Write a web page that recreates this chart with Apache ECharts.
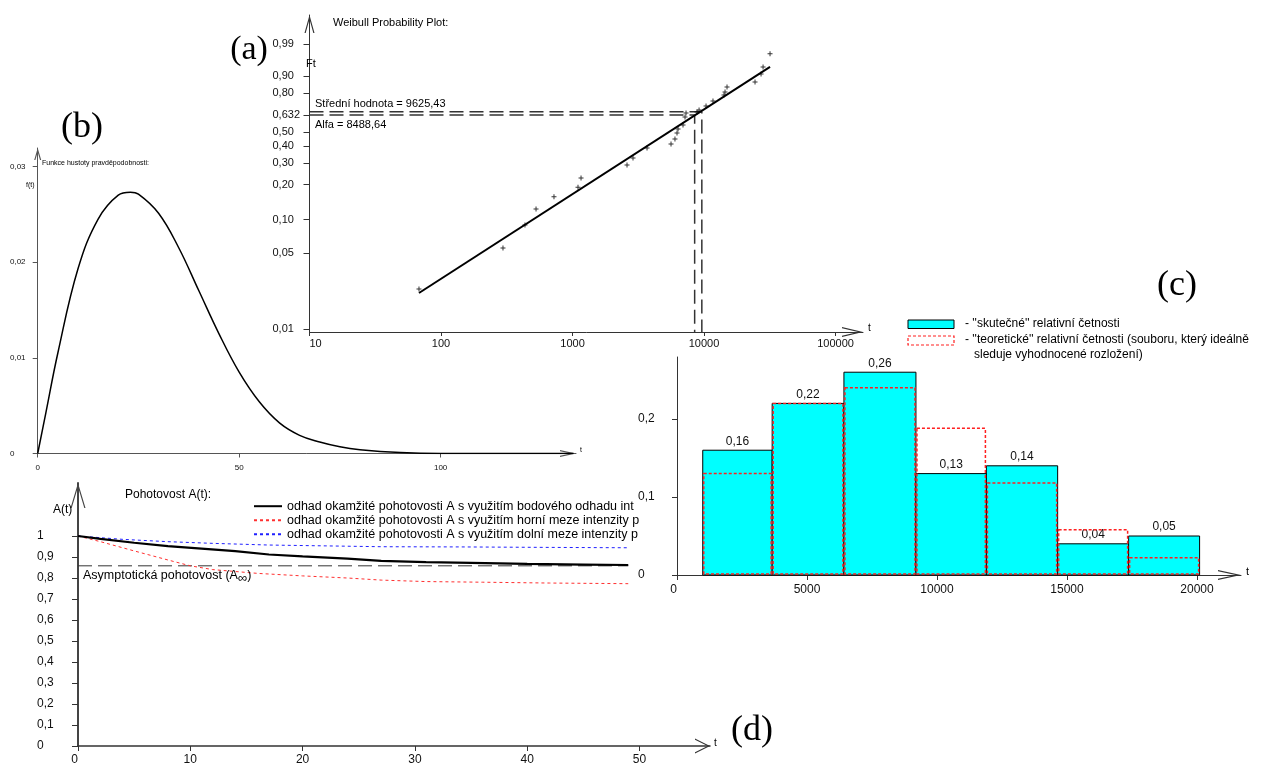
<!DOCTYPE html>
<html>
<head>
<meta charset="utf-8" />
<title>Weibull - pohotovost</title>
<script src="https://cdn.jsdelivr.net/npm/echarts@6/dist/echarts.min.js"></script>
<style>html,body{margin:0;padding:0;background:#fff;}</style>
</head>
<body>
<div id="main" style="width:1262px;height:766px;"></div>
<script type="text/javascript">

// (a) Weibull probability plot - data points (t, Ft)
var ptsT = [68, 296, 435, 528, 723, 1101, 1161, 2597, 2884, 3687, 5612, 6013, 6232, 6345, 6923, 7170, 7300, 8850, 9170, 10360, 11700, 14190, 14450, 14960, 24430, 27150, 28120, 31770];
var ptsF = [0.0234, 0.0557, 0.0896, 0.124, 0.158, 0.191, 0.227, 0.289, 0.327, 0.389, 0.415, 0.450, 0.493, 0.523, 0.553, 0.616, 0.648, 0.656, 0.672, 0.703, 0.741, 0.785, 0.806, 0.839, 0.869, 0.911, 0.940, 0.976];
var fitT = [68, 31770];
var fitF = [0.0215, 0.940];
var alfa = 8488.64, stredni = 9625.43;
var fAlfa = 0.632, fStredni = 0.658;
var yTickF = [0.01, 0.05, 0.10, 0.20, 0.30, 0.40, 0.50, 0.632, 0.80, 0.90, 0.99];
var yTickLab = ['0,01', '0,05', '0,10', '0,20', '0,30', '0,40', '0,50', '0,632', '0,80', '0,90', '0,99'];
var xTickT = [10, 100, 1000, 10000, 100000];

// (b) funkce hustoty
var pdfT = [0, 2, 5, 10, 15, 20, 23, 25, 30, 35, 40, 45, 50, 55, 60, 65, 70, 75, 80, 90, 100, 133];
var pdfF = [0, 0.0042, 0.0105, 0.0193, 0.0245, 0.0270, 0.0273, 0.0271, 0.0251, 0.0215, 0.0170, 0.0125, 0.0085, 0.0054, 0.0032, 0.0019, 0.0012, 0.0007, 0.0004, 0.0001, 0, 0];

// (c) histogram
var binLo = [990, 3660, 6420, 9190, 11900, 14640, 17370];
var binHi = [3660, 6420, 9190, 11900, 14640, 17370, 20100];
var skutecne = [0.16, 0.22, 0.26, 0.13, 0.14, 0.04, 0.05];
var teoreticke = [0.13, 0.22, 0.24, 0.188, 0.118, 0.058, 0.022];
var xTickC = [0, 5000, 10000, 15000, 20000];

// (d) pohotovost A(t)
var bodT = [0, 2, 5, 8, 11, 14, 17, 20, 24, 27, 31, 35, 40, 45, 49];
var bodA = [1, 0.986, 0.968, 0.952, 0.940, 0.928, 0.912, 0.903, 0.892, 0.882, 0.876, 0.872, 0.867, 0.864, 0.862];
var horT = [0, 2, 5, 8, 10, 12, 16, 20, 24, 27, 31, 36, 42, 49];
var horA = [1, 0.973, 0.929, 0.886, 0.858, 0.840, 0.822, 0.810, 0.800, 0.790, 0.783, 0.780, 0.776, 0.773];
var dolT = [0, 4, 8, 12, 17, 22, 27, 34, 41, 49];
var dolA = [1, 0.984, 0.973, 0.965, 0.957, 0.953, 0.949, 0.948, 0.946, 0.944];
var asympA = 0.858;

var FONT = "'Liberation Sans', Arial, sans-serif";
var SERIF = "'Liberation Serif', 'Times New Roman', serif";

function lg(t) { return Math.log(t) / Math.LN10; }
function wb(F) { return Math.log(-Math.log(1 - F)); }
function dec(v) { return String(+v.toFixed(4)).replace('.', ','); }
function pairs(xs, ys, fx, fy) {
	return xs.map(function (x, i) { return [fx ? fx(x) : x, fy ? fy(ys[i]) : ys[i]]; });
}
// open arrow head
function chev(w, h) {
	var t = 1.2, a = 2 * t * h / w;
	return 'path://M0,' + h + ' L' + (w / 2) + ',0 L' + w + ',' + h + ' L' + (w - t) + ',' + h +
		' L' + (w / 2) + ',' + a + ' L' + t + ',' + h + ' Z';
}
function arrowLine(w, h, color, width) {
	return {
		show: true, onZero: false,
		symbol: ['none', chev(w, h)], symbolSize: [w, h], symbolOffset: [0, -h / 2],
		lineStyle: { color: color, width: width }
	};
}
var PLUS = 'path://M2,0 L3,0 L3,2 L5,2 L5,3 L3,3 L3,5 L2,5 L2,3 L0,3 L0,2 L2,2 Z';

var yMinA = -4.667, yMaxA = 2.151;

var myChart = echarts.init(document.getElementById('main'));

function txt(x, y, s, size, extra) {
	var st = { text: s, font: size + 'px ' + FONT, fill: '#000', align: 'left', verticalAlign: 'middle' };
	for (var k in extra) st[k] = extra[k];
	return { type: 'text', x: x, y: y, style: st, z: 50 };
}

var option = {
	animation: false,
	backgroundColor: '#fff',
	grid: [
		{ left: 309.5, top: 15, width: 553.5, height: 317, containLabel: false },
		{ left: 37.7, top: 148, width: 538.3, height: 305.5, containLabel: false },
		{ left: 677, top: 357, width: 564, height: 218, containLabel: false },
		{ left: 78, top: 483, width: 632, height: 263, containLabel: false }
	],
	xAxis: [
		{
			gridIndex: 0, type: 'value', min: 1, max: 5.209,
			axisLine: arrowLine(10, 21, '#333', 1),
			axisTick: { show: true, length: 4, customValues: xTickT.map(lg), lineStyle: { color: '#333' } },
			axisLabel: {
				customValues: xTickT.map(lg), margin: 6, fontSize: 11, fontFamily: FONT, color: '#111',
				alignMinLabel: 'left',
				formatter: function (v) { return String(Math.round(Math.pow(10, v))); }
			},
			splitLine: { show: false }
		},
		{
			gridIndex: 1, type: 'value', min: 0, max: 133.6,
			axisLine: arrowLine(7, 16, '#555', 1),
			axisTick: { show: true, length: 4, customValues: [0, 50, 100], lineStyle: { color: '#555' } },
			axisLabel: { customValues: [0, 50, 100], margin: 10, fontSize: 8, fontFamily: FONT, color: '#111', formatter: dec },
			splitLine: { show: false }
		},
		{
			gridIndex: 2, type: 'value', min: 0, max: 21692,
			axisLine: arrowLine(10, 23, '#333', 1),
			axisTick: { show: true, length: 5, customValues: xTickC, lineStyle: { color: '#333' } },
			axisLabel: {
				customValues: xTickC, margin: 9, fontSize: 12, fontFamily: FONT, color: '#111',
				alignMinLabel: 'right',
				formatter: function (v) { return String(v); }
			},
			splitLine: { show: false }
		},
		{
			gridIndex: 3, type: 'value', min: 0, max: 56.28,
			axisLine: arrowLine(15, 15, '#333', 1.5),
			axisTick: { show: true, length: 5, customValues: [0, 10, 20, 30, 40, 50], lineStyle: { color: '#333' } },
			axisLabel: { customValues: [0, 10, 20, 30, 40, 50], margin: 8, fontSize: 12, fontFamily: FONT, color: '#111', alignMinLabel: 'right' },
			splitLine: { show: false }
		}
	],
	yAxis: [
		{
			gridIndex: 0, type: 'value', min: yMinA, max: yMaxA,
			axisLine: arrowLine(10, 18, '#333', 1),
			axisTick: { show: true, length: 6, customValues: yTickF.map(wb), lineStyle: { color: '#333' } },
			axisLabel: {
				customValues: yTickF.map(wb), margin: 37, align: 'left', fontSize: 11, fontFamily: FONT, color: '#111',
				formatter: function (v) {
					var best = 0, bd = 1e9;
					for (var i = 0; i < yTickF.length; i++) {
						var d = Math.abs(wb(yTickF[i]) - v);
						if (d < bd) { bd = d; best = i; }
					}
					return yTickLab[best];
				}
			},
			splitLine: { show: false }
		},
		{
			gridIndex: 1, type: 'value', min: 0, max: 0.03192,
			axisLine: arrowLine(7, 12, '#555', 1),
			axisTick: { show: true, length: 5, customValues: [0, 0.01, 0.02, 0.03], lineStyle: { color: '#555' } },
			axisLabel: { customValues: [0, 0.01, 0.02, 0.03], margin: 27.7, align: 'left', fontSize: 8, fontFamily: FONT, color: '#111', formatter: dec },
			splitLine: { show: false }
		},
		{
			gridIndex: 2, type: 'value', min: 0, max: 0.2795,
			axisLine: { show: true, onZero: false, lineStyle: { color: '#333', width: 1 } },
			axisTick: { show: true, length: 5, customValues: [0, 0.1, 0.2], lineStyle: { color: '#333' } },
			axisLabel: { customValues: [0, 0.1, 0.2], margin: 39, align: 'left', fontSize: 12, fontFamily: FONT, color: '#111', formatter: dec },
			splitLine: { show: false }
		},
		{
			gridIndex: 3, type: 'value', min: 0, max: 1.2524,
			axisLine: arrowLine(15, 25, '#444', 2),
			axisTick: { show: true, length: 6, customValues: [0, 0.1, 0.2, 0.3, 0.4, 0.5, 0.6, 0.7, 0.8, 0.9, 1], lineStyle: { color: '#333' } },
			axisLabel: { customValues: [0, 0.1, 0.2, 0.3, 0.4, 0.5, 0.6, 0.7, 0.8, 0.9, 1], margin: 41, align: 'left', fontSize: 12, fontFamily: FONT, color: '#111', formatter: dec },
			splitLine: { show: false }
		}
	],
	legend: {
		left: 248, top: 494.7, orient: 'vertical', itemWidth: 28, itemHeight: 12, itemGap: 1,
		selectedMode: false,
		itemStyle: { opacity: 0 },
		textStyle: { fontSize: 12.5, fontFamily: FONT, color: '#000', lineHeight: 12 },
		data: [
			'odhad okamžité pohotovosti A s využitím bodového odhadu int',
			'odhad okamžité pohotovosti A s využitím horní meze intenzity p',
			'odhad okamžité pohotovosti A s využitím dolní meze intenzity p'
		]
	},
	series: [
		// (a)
		{
			type: 'line', xAxisIndex: 0, yAxisIndex: 0, symbol: 'none', silent: true,
			data: [[1, wb(fAlfa)], [lg(alfa), wb(fAlfa)], [lg(alfa), yMinA]],
			lineStyle: { color: '#333', width: 1.5, type: [14, 6] }
		},
		{
			type: 'line', xAxisIndex: 0, yAxisIndex: 0, symbol: 'none', silent: true,
			data: [[1, wb(fStredni)], [lg(stredni), wb(fStredni)], [lg(stredni), yMinA]],
			lineStyle: { color: '#333', width: 1.5, type: [14, 6] }
		},
		{
			type: 'line', xAxisIndex: 0, yAxisIndex: 0, symbol: 'none', z: 3,
			data: pairs(fitT, fitF, lg, wb),
			lineStyle: { color: '#000', width: 2 }
		},
		{
			type: 'scatter', xAxisIndex: 0, yAxisIndex: 0, symbol: PLUS, symbolSize: 5, z: 4,
			data: pairs(ptsT, ptsF, lg, wb),
			itemStyle: { color: '#000' }
		},
		// (b)
		{
			type: 'line', xAxisIndex: 1, yAxisIndex: 1, symbol: 'none', smooth: 0.4,
			data: pairs(pdfT, pdfF),
			lineStyle: { color: '#000', width: 1.5 }
		},
		// (c)
		{
			type: 'custom', xAxisIndex: 2, yAxisIndex: 2, z: 2,
			encode: { x: [0, 1], y: 2 },
			data: binLo.map(function (lo, i) { return [lo, binHi[i], skutecne[i]]; }),
			renderItem: function (params, api) {
				var p0 = api.coord([api.value(0), api.value(2)]);
				var p1 = api.coord([api.value(1), 0]);
				return {
					type: 'group', children: [
						{ type: 'rect', shape: { x: p0[0], y: p0[1], width: p1[0] - p0[0], height: p1[1] - p0[1] },
							style: { fill: '#00ffff', stroke: '#000', lineWidth: 1 } },
						{ type: 'text', x: (p0[0] + p1[0]) / 2, y: p0[1] - 3,
							style: { text: dec(api.value(2)), font: '12px ' + FONT, fill: '#111', align: 'center', verticalAlign: 'bottom' } }
					]
				};
			}
		},
		{
			type: 'custom', xAxisIndex: 2, yAxisIndex: 2, z: 3,
			encode: { x: [0, 1], y: 2 },
			data: binLo.map(function (lo, i) { return [lo, binHi[i], teoreticke[i]]; }),
			renderItem: function (params, api) {
				var p0 = api.coord([api.value(0), api.value(2)]);
				var p1 = api.coord([api.value(1), 0]);
				return { type: 'rect', shape: { x: p0[0] + 1, y: p0[1], width: p1[0] - p0[0] - 2, height: p1[1] - p0[1] - 1 },
					style: { fill: 'none', stroke: '#ff2020', lineWidth: 1.5, lineDash: [3, 2] } };
			}
		},
		// (d)
		{
			name: 'asymptota', type: 'line', xAxisIndex: 3, yAxisIndex: 3, symbol: 'none',
			data: [[0, asympA], [49, asympA]],
			lineStyle: { color: '#333', width: 1, type: [14, 6] }
		},
		{
			name: 'odhad okamžité pohotovosti A s využitím horní meze intenzity p',
			type: 'line', xAxisIndex: 3, yAxisIndex: 3, symbol: 'none',
			data: pairs(horT, horA),
			lineStyle: { color: '#ff3030', width: 1, type: [3, 3] }, itemStyle: { color: '#ff3030' }
		},
		{
			name: 'odhad okamžité pohotovosti A s využitím dolní meze intenzity p',
			type: 'line', xAxisIndex: 3, yAxisIndex: 3, symbol: 'none',
			data: pairs(dolT, dolA),
			lineStyle: { color: '#2020ff', width: 1, type: [3, 3] }, itemStyle: { color: '#2020ff' }
		},
		{
			name: 'odhad okamžité pohotovosti A s využitím bodového odhadu int',
			type: 'line', xAxisIndex: 3, yAxisIndex: 3, symbol: 'none', z: 4,
			data: pairs(bodT, bodA),
			lineStyle: { color: '#000', width: 2.2 }, itemStyle: { color: '#000' }
		}
	],
	graphic: [
		// labels of the panels
		txt(249, 50, '(a)', 34, { font: '34px ' + SERIF, align: 'center' }),
		txt(82, 128, '(b)', 36, { font: '36px ' + SERIF, align: 'center' }),
		txt(1177, 286, '(c)', 36, { font: '36px ' + SERIF, align: 'center' }),
		txt(752, 731, '(d)', 36, { font: '36px ' + SERIF, align: 'center' }),
		// (a)
		txt(333, 23, 'Weibull Probability Plot:', 11),
		txt(311, 64, 'Ft', 11, { align: 'center' }),
		txt(315, 104, 'Střední hodnota = 9625,43', 11),
		txt(315, 125, 'Alfa = 8488,64', 11),
		txt(868, 328, 't', 10),
		// (b)
		txt(42, 163, 'Funkce hustoty pravděpodobnosti:', 7),
		txt(26, 185, 'f(t)', 7),
		txt(580, 450, 't', 7),
		// (c)
		{ type: 'rect', shape: { x: 908, y: 320, width: 46, height: 8.5 }, style: { fill: '#00ffff', stroke: '#000', lineWidth: 1 }, z: 50 },
		{ type: 'rect', shape: { x: 908, y: 336, width: 46, height: 9 }, style: { fill: 'none', stroke: '#ff2020', lineWidth: 1.2, lineDash: [3, 2] }, z: 50 },
		txt(965, 324, "- ''skutečné'' relativní četnosti", 12),
		txt(965, 340, "- ''teoretické'' relativní četnosti (souboru, který ideálně", 12),
		txt(974, 355, 'sleduje vyhodnocené rozložení)', 12),
		txt(1246, 572, 't', 11),
		// (d)
		txt(125, 495, 'Pohotovost A(t):', 12),
		txt(53, 510, 'A(t)', 12),
		{
			type: 'text', x: 83, y: 576, z: 50,
			style: {
				text: 'Asymptotická pohotovost (A{s|∞})', font: '12.5px ' + FONT, fill: '#000',
				align: 'left', verticalAlign: 'middle', lineHeight: 18,
				rich: { s: { fontSize: 13, fontFamily: FONT, verticalAlign: 'bottom', lineHeight: 18 } }
			}
		},
		txt(714, 743, 't', 10)
	]
};

myChart.setOption(option);

</script>
</body>
</html>
